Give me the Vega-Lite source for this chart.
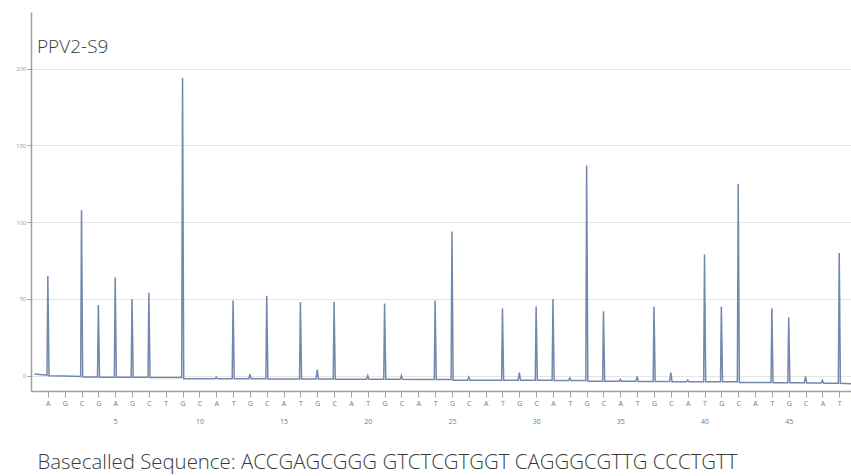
{
  "$schema": "https://vega.github.io/schema/vega-lite/v6.json",
  "width": 820,
  "height": 379,
  "autosize": "none",
  "padding": {"left": 31, "top": 12, "right": 0, "bottom": 85},
  "background": "white",
  "config": {"view": {"stroke": null}, "font": "Open Sans"},
  "title": {"text": "PPV2-S9", "anchor": "start", "frame": "group", "offset": -60, "dx": 6, "fontSize": 19, "fontWeight": 300, "color": "#3a3a3a", "baseline": "alphabetic"},
  "data": {"values": [
    {"x": 0.2, "y": 1}, {"x": 0.85, "y": 0.5},
    {"x": 0.95, "y": 0.3}, {"x": 1, "y": 65}, {"x": 1.07, "y": 0},
    {"x": 2, "y": -0.3},
    {"x": 2.95, "y": -0.5}, {"x": 3, "y": 108}, {"x": 3.07, "y": -0.8},
    {"x": 3.95, "y": -0.8}, {"x": 4, "y": 46}, {"x": 4.07, "y": -1},
    {"x": 4.95, "y": -1}, {"x": 5, "y": 64}, {"x": 5.07, "y": -1},
    {"x": 5.95, "y": -1}, {"x": 6, "y": 50}, {"x": 6.07, "y": -1},
    {"x": 6.95, "y": -1}, {"x": 7, "y": 54}, {"x": 7.07, "y": -1.2},
    {"x": 8, "y": -1.2},
    {"x": 8.95, "y": -1.2}, {"x": 9, "y": 194}, {"x": 9.07, "y": -2},
    {"x": 10, "y": -2},
    {"x": 10.93, "y": -2}, {"x": 11, "y": -1}, {"x": 11.07, "y": -2},
    {"x": 11.95, "y": -2}, {"x": 12, "y": 49}, {"x": 12.07, "y": -2},
    {"x": 12.93, "y": -2}, {"x": 13, "y": 1}, {"x": 13.07, "y": -2},
    {"x": 13.95, "y": -2}, {"x": 14, "y": 52}, {"x": 14.07, "y": -2.2},
    {"x": 15, "y": -2.2},
    {"x": 15.95, "y": -2.2}, {"x": 16, "y": 48}, {"x": 16.07, "y": -2.2},
    {"x": 16.93, "y": -2.2}, {"x": 17, "y": 4}, {"x": 17.07, "y": -2.2},
    {"x": 17.95, "y": -2.2}, {"x": 18, "y": 48}, {"x": 18.07, "y": -2.3},
    {"x": 19, "y": -2.3},
    {"x": 19.93, "y": -2.3}, {"x": 20, "y": 0}, {"x": 20.07, "y": -2.3},
    {"x": 20.95, "y": -2.3}, {"x": 21, "y": 47}, {"x": 21.07, "y": -2.4},
    {"x": 21.93, "y": -2.4}, {"x": 22, "y": 0}, {"x": 22.07, "y": -2.4},
    {"x": 23, "y": -2.5},
    {"x": 23.95, "y": -2.5}, {"x": 24, "y": 49}, {"x": 24.07, "y": -2.5},
    {"x": 24.95, "y": -2.5}, {"x": 25, "y": 94}, {"x": 25.07, "y": -3},
    {"x": 25.93, "y": -3}, {"x": 26, "y": -1}, {"x": 26.07, "y": -3},
    {"x": 27, "y": -3},
    {"x": 27.95, "y": -3}, {"x": 28, "y": 44}, {"x": 28.07, "y": -3},
    {"x": 28.93, "y": -3}, {"x": 29, "y": 2}, {"x": 29.07, "y": -3},
    {"x": 29.95, "y": -3}, {"x": 30, "y": 45}, {"x": 30.07, "y": -3},
    {"x": 30.95, "y": -3}, {"x": 31, "y": 50}, {"x": 31.07, "y": -3.2},
    {"x": 31.93, "y": -3.2}, {"x": 32, "y": -1.5}, {"x": 32.07, "y": -3.2},
    {"x": 32.95, "y": -3.2}, {"x": 33, "y": 137}, {"x": 33.07, "y": -3.6},
    {"x": 33.95, "y": -3.6}, {"x": 34, "y": 42}, {"x": 34.07, "y": -3.7},
    {"x": 34.93, "y": -3.7}, {"x": 35, "y": -2.5}, {"x": 35.07, "y": -3.7},
    {"x": 35.93, "y": -3.7}, {"x": 36, "y": -0.5}, {"x": 36.07, "y": -3.8},
    {"x": 36.95, "y": -3.8}, {"x": 37, "y": 45}, {"x": 37.07, "y": -3.8},
    {"x": 37.93, "y": -3.8}, {"x": 38, "y": 2}, {"x": 38.07, "y": -3.9},
    {"x": 38.93, "y": -3.9}, {"x": 39, "y": -2.8}, {"x": 39.07, "y": -3.9},
    {"x": 39.95, "y": -3.9}, {"x": 40, "y": 79}, {"x": 40.07, "y": -4},
    {"x": 40.95, "y": -4}, {"x": 41, "y": 45}, {"x": 41.07, "y": -4},
    {"x": 41.95, "y": -4}, {"x": 42, "y": 125}, {"x": 42.07, "y": -4.5},
    {"x": 43, "y": -4.5},
    {"x": 43.95, "y": -4.5}, {"x": 44, "y": 44}, {"x": 44.07, "y": -4.6},
    {"x": 44.95, "y": -4.6}, {"x": 45, "y": 38}, {"x": 45.07, "y": -4.7},
    {"x": 45.93, "y": -4.7}, {"x": 46, "y": -0.5}, {"x": 46.07, "y": -4.8},
    {"x": 46.93, "y": -4.8}, {"x": 47, "y": -3}, {"x": 47.07, "y": -4.9},
    {"x": 47.95, "y": -4.9}, {"x": 48, "y": 80}, {"x": 48.07, "y": -5},
    {"x": 48.7, "y": -5.2}
  ]},
  "mark": {"type": "line", "color": "#7388ac", "strokeWidth": 1.5, "clip": true},
  "encoding": {
    "x": {
      "field": "x", "type": "quantitative",
      "scale": {"domain": [0, 48.7], "nice": false, "zero": false},
      "axis": {
        "values": [1,2,3,4,5,6,7,8,9,10,11,12,13,14,15,16,17,18,19,20,21,22,23,24,25,26,27,28,29,30,31,32,33,34,35,36,37,38,39,40,41,42,43,44,45,46,47,48],
        "labelExpr": "datum.value % 5 == 0 ? [substring('AGCGAGCTGCATGCATGCATGCATGCATGCATGCATGCATGCATGCAT', datum.value - 1, datum.value), '' + datum.value] : substring('AGCGAGCTGCATGCATGCATGCATGCATGCATGCATGCATGCATGCAT', datum.value - 1, datum.value)",
        "grid": false,
        "domainColor": "#a0a0a0", "domainWidth": 1.5,
        "tickColor": "#a0a0a0", "tickSize": 6,
        "labelFontSize": 7, "labelColor": "#777777", "labelPadding": 2, "labelLineHeight": 18,
        "labelFlush": false, "labelOverlap": false,
        "title": "Basecalled Sequence: ACCGAGCGGG GTCTCGTGGT CAGGGCGTTG CCCTGTT",
        "titleAnchor": "start", "titleAlign": "left", "titleX": 6, "titleY": 77,
        "titleFontSize": 20.4, "titleFontWeight": 300, "titleColor": "#3a3a3a", "titleBaseline": "alphabetic"
      }
    },
    "y": {
      "field": "y", "type": "quantitative",
      "scale": {"domain": [-10, 237], "nice": false, "zero": false},
      "axis": {
        "values": [0, 50, 100, 150, 200],
        "grid": true, "gridColor": "#e6e6e6",
        "domainColor": "#a0a0a0", "domainWidth": 1.5,
        "tickColor": "#a0a0a0", "tickSize": 4,
        "labelFontSize": 6, "labelColor": "#999999", "labelPadding": 1,
        "title": null
      }
    }
  }
}
